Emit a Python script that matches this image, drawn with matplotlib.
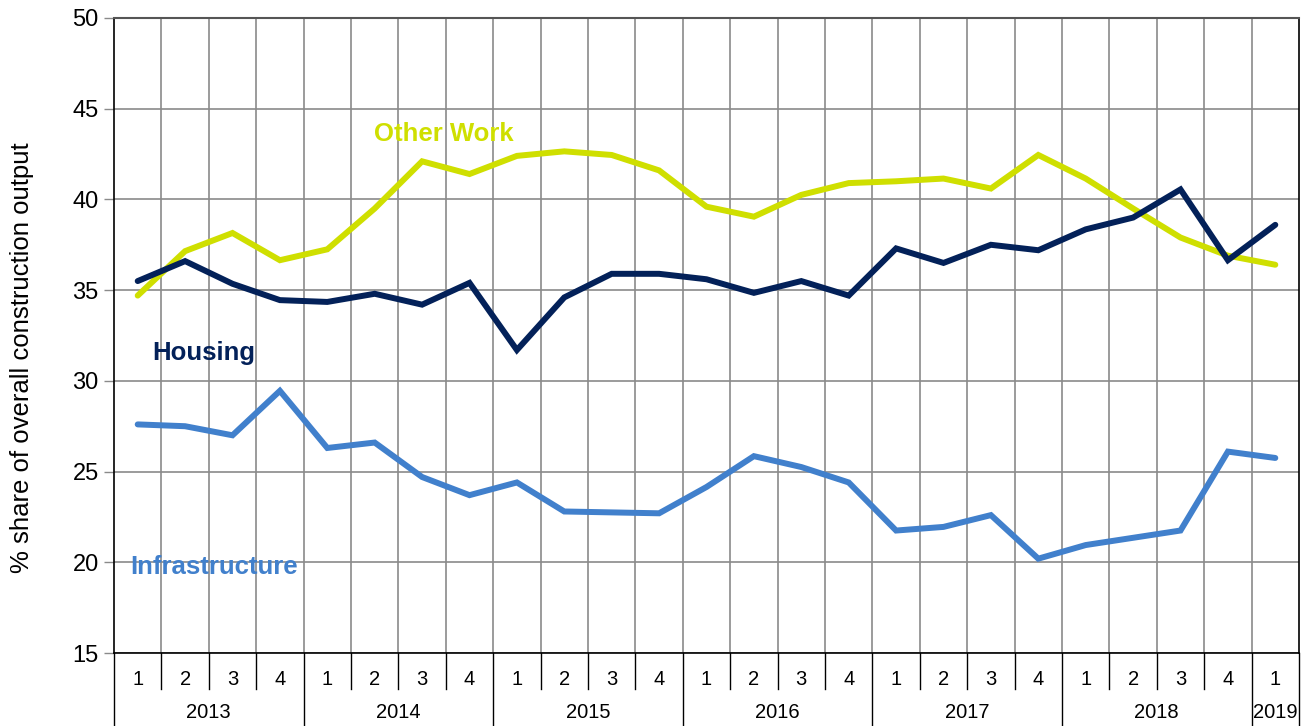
import matplotlib
matplotlib.use("Agg")
import matplotlib.pyplot as plt

plt.rcParams['font.family'] = ['Liberation Sans', 'DejaVu Sans']

years = ["2013", "2014", "2015", "2016", "2017", "2018", "2019"]
quarters_per_year = [4, 4, 4, 4, 4, 4, 1]
quarter_labels = ["1", "2", "3", "4"] * 6 + ["1"]

housing = [35.5, 36.6, 35.35, 34.45, 34.35, 34.8, 34.2, 35.4,
           31.7, 34.6, 35.9, 35.9, 35.6, 34.85, 35.5, 34.7,
           37.3, 36.5, 37.5, 37.2, 38.35, 39.0, 40.55, 36.65, 38.6]
other_work = [34.7, 37.15, 38.15, 36.65, 37.25, 39.5, 42.1, 41.4,
              42.4, 42.65, 42.45, 41.6, 39.6, 39.05, 40.25, 40.9,
              41.0, 41.15, 40.6, 42.45, 41.15, 39.5, 37.9, 36.9, 36.4]
infrastructure = [27.6, 27.5, 27.0, 29.45, 26.3, 26.6, 24.7, 23.7,
                  24.4, 22.8, 22.75, 22.7, 24.15, 25.85, 25.25, 24.4,
                  21.75, 21.95, 22.6, 20.2, 20.95, 21.35, 21.75, 26.1, 25.75]

c_housing = "#032159"
c_other = "#cfdf00"
c_infra = "#4180cc"
grid_c = "#8a8a8a"

fig = plt.figure(figsize=(13.12, 7.26), dpi=100)
ax = fig.add_axes([114/1312, 1 - 653/726, (1299-114)/1312, (653-18)/726])

n = len(housing)
x = list(range(n))

lw = 4.3
ax.plot(x, other_work, color=c_other, lw=lw, solid_joinstyle='miter', solid_capstyle='round', zorder=3)
ax.plot(x, housing, color=c_housing, lw=lw, solid_joinstyle='miter', solid_capstyle='round', zorder=4)
ax.plot(x, infrastructure, color=c_infra, lw=lw, solid_joinstyle='miter', solid_capstyle='round', zorder=3)

ax.set_xlim(-0.5, n - 0.5)
ax.set_ylim(15, 50)
ax.set_yticks(range(15, 51, 5))
ax.tick_params(axis='y', labelsize=17, length=7, width=1, color=grid_c, pad=4)

ax.set_xticks(x)
ax.set_xticklabels(quarter_labels, fontsize=14.5)
ax.tick_params(axis='x', length=0, pad=12)
ax.set_xticks([b - 0.5 for b in range(1, n)], minor=True)
ax.tick_params(axis='x', which='minor', length=0)

ax.grid(True, axis='y', color=grid_c, lw=1.2)
ax.grid(True, axis='x', which='minor', color=grid_c, lw=1.2)
ax.set_axisbelow(True)

for side in ['left', 'bottom', 'right']:
    ax.spines[side].set_color('black')
    ax.spines[side].set_linewidth(1.2)
ax.spines['top'].set_color('#555555')
ax.spines['top'].set_linewidth(1.5)

# separators below the axis
tr = ax.get_xaxis_transform()
h_q = 36 / 635
h_y = 74 / 635
year_bounds = [-0.5]
for q in quarters_per_year:
    year_bounds.append(year_bounds[-1] + q)
for b in range(1, n):
    bx = b - 0.5
    if bx not in year_bounds:
        ax.plot([bx, bx], [0, -h_q], transform=tr, color='black', lw=1, clip_on=False)
for bx in year_bounds:
    ax.plot([bx, bx], [0, -h_y], transform=tr, color='black', lw=1, clip_on=False)

for i, yr in enumerate(years):
    cx = (year_bounds[i] + year_bounds[i + 1]) / 2
    ax.text(cx, -60 / 635, yr, transform=tr, ha='center', va='center', fontsize=14.5)

ax.text(4.99, 43.6, "Other Work", color=c_other, fontsize=18.5, fontweight='bold', ha='left', va='center')
ax.text(0.30, 31.55, "Housing", color=c_housing, fontsize=18.5, fontweight='bold', ha='left', va='center')
ax.text(-0.16, 19.75, "Infrastructure", color=c_infra, fontsize=18.5, fontweight='bold', ha='left', va='center')

fig.text(22/1312, 1 - 358/726, "% share of overall construction output", rotation=90,
         ha='center', va='center', fontsize=18.5)

fig.savefig("out.png", dpi=100)
